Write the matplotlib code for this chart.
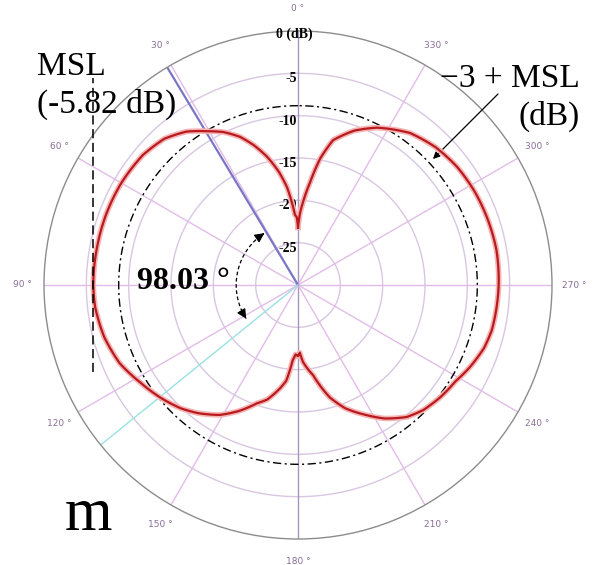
import numpy as np
import matplotlib.pyplot as plt

# measured pattern, angle in degrees (counter-clockwise from 0 at top) and level in dB
angle_deg = [0, 1.0, 2.5, 6.4, 9.5, 13.6, 17.5, 21.4, 26.0, 30.6, 36.0, 42.4, 50.0, 60.2,
             70.0, 80.1, 90.0, 96.2, 105.0, 113.7, 121.7, 129.3, 136.4, 142.0, 149.0,
             155.0, 160.8, 165.0, 170.1, 173.0, 176.0, 178.0, 180.0, 181.5, 183.7,
             186.0, 189.5, 195.8, 201.0, 207.9, 213.0, 219.5, 225.0, 231.7, 238.5,
             244.5, 251.3, 256.8, 270.0, 280.0, 289.8, 298.0, 306.6, 315.0, 323.6,
             333.3, 340.0, 346.4, 350.0, 353.3, 356.0, 358.4, 360.0]
level_db = [-23.2, -22.0, -21.7, -18.4, -16.5, -14.4, -12.7, -11.2, -9.9, -8.9, -7.6,
            -6.6, -6.1, -5.9, -5.85, -5.85, -5.82, -5.9, -6.3, -7.0, -8.1, -9.0, -9.9,
            -10.8, -12.1, -13.6, -15.2, -16.0, -17.6, -18.6, -21.1, -21.8, -21.6, -22.0,
            -20.9, -20.2, -19.2, -16.2, -14.4, -12.6, -11.2, -9.8, -9.1, -8.6, -8.2,
            -7.5, -6.8, -6.5, -6.3, -6.2, -6.3, -6.4, -6.6, -7.0, -7.7, -9.2, -10.6,
            -12.4, -14.8, -17.8, -19.8, -21.5, -23.2]

ring_db = [-25, -20, -15, -10, -5]
ring_labels = ['-25', '-20', '-15', '-10', '-5', '0 (dB)']
spoke_deg = list(range(0, 360, 30))

msl_db = -5.82
msl_dir = 31.0
beamwidth = 98.03
r_min, r_max = -30, 0

fig = plt.figure(figsize=(5.98, 5.65), dpi=100)
ax = fig.add_axes([44 / 598, 26 / 565, 508 / 598, 508 / 565], projection='polar')
ax.set_theta_zero_location('N')
ax.set_theta_direction(1)
ax.set_rlim(r_min, r_max)
ax.set_xticks([])
ax.set_yticks([])
ax.grid(False)
ax.spines['polar'].set_color('#8c8c8c')
ax.spines['polar'].set_linewidth(1.0)

full = np.linspace(0, 2 * np.pi, 400)
for r in ring_db:
    ax.plot(full, np.full_like(full, r), color='#d9c6e2', lw=1.0, zorder=1)
for a in spoke_deg:
    c = '#a896ba' if a % 180 == 0 else '#e2bce8'
    ax.plot([np.radians(a)] * 2, [r_min, r_max], color=c, lw=1.0, zorder=1)
    ax.text(np.radians(a), r_max + 2.6, f'{a} °', ha='center', va='center',
            fontsize=6.5, color='#8a6e9a')

for r, lab in zip(ring_db + [0], ring_labels):
    if r == 0:
        ax.annotate(lab, (0, r), xytext=(-3, -2), textcoords='offset points',
                    ha='center', va='center', fontsize=10, fontweight='bold',
                    family='Liberation Serif')
    else:
        ax.annotate(lab, (0, r), xytext=(-1, -4), textcoords='offset points',
                    ha='right', va='center', fontsize=10, fontweight='bold',
                    family='Liberation Serif')

# -3 dB below main lobe level
ax.plot(full, np.full_like(full, msl_db - 3), color='black', lw=1.0,
        ls=(0, (6, 2.5, 1.5, 2.5)), zorder=3)

# beam edges
ax.plot([np.radians(msl_dir)] * 2, [r_min, r_max], color='#7a76c6', lw=1.6, zorder=2)
ax.plot([np.radians(msl_dir + beamwidth)] * 2, [r_min, r_max], color='#98e2e2',
        lw=1.0, zorder=2)

# pattern; let the polar transform follow arcs between the samples
th = np.radians(angle_deg)
for lw, c, z in [(4.0, '#f5b4b4', 4), (1.6, '#b81a1e', 5)]:
    ln, = ax.plot(th, level_db, color=c, lw=lw, zorder=z, solid_joinstyle='round')
    ln.get_path()._interpolation_steps = 16

# angle arc between the beam edges
r_arc = -22.7
arc = np.radians(np.linspace(msl_dir + 6, msl_dir + beamwidth - 8, 60))
ax.plot(arc, np.full_like(arc, r_arc), color='black', lw=0.9, ls=(0, (3, 2)), zorder=6)
ax.annotate('', xy=(np.radians(msl_dir + 2), r_arc),
            xytext=(np.radians(msl_dir + 6), r_arc),
            arrowprops=dict(arrowstyle='-|>', color='black', lw=0.9, mutation_scale=14))
ax.annotate('', xy=(np.radians(msl_dir + beamwidth - 6), r_arc),
            xytext=(np.radians(msl_dir + beamwidth - 9), r_arc),
            arrowprops=dict(arrowstyle='-|>', color='black', lw=0.9, mutation_scale=14))

# MSL tangent line on the left of the lobe
x_msl = 0.5 - (msl_db - r_min) / (r_max - r_min) / 2
ax.plot([x_msl, x_msl], [0.329, 0.907], transform=ax.transAxes, color='black',
        lw=1.1, ls=(0, (6, 3)), clip_on=False, zorder=6)

serif = 'Liberation Serif'
fig.text(37 / 598, 1 - 75 / 565, 'MSL', fontsize=24, family=serif, ha='left',
         va='baseline')
fig.text(37 / 598, 1 - 113 / 565, '(-5.82 dB)', fontsize=24, family=serif, ha='left',
         va='baseline')
fig.text(580 / 598, 1 - 87 / 565, '−3 + MSL', fontsize=24, family=serif, ha='right',
         va='baseline')
fig.text(580 / 598, 1 - 125 / 565, '(dB)', fontsize=24, family=serif, ha='right',
         va='baseline')
fig.text(137 / 598, 1 - 289 / 565, '98.03 °', fontsize=23, family=serif,
         fontweight='bold', ha='left', va='baseline')
fig.text(65 / 598, 1 - 530 / 565, 'm', fontsize=44, family=serif, ha='left',
         va='baseline')

ax.annotate('', xy=(np.radians(313), msl_db - 2.7), xytext=(500, 565 - 92),
            textcoords='figure pixels',
            arrowprops=dict(arrowstyle='-|>', color='black', lw=0.9, mutation_scale=10))

fig.savefig('out.png', dpi=100, facecolor='white')
